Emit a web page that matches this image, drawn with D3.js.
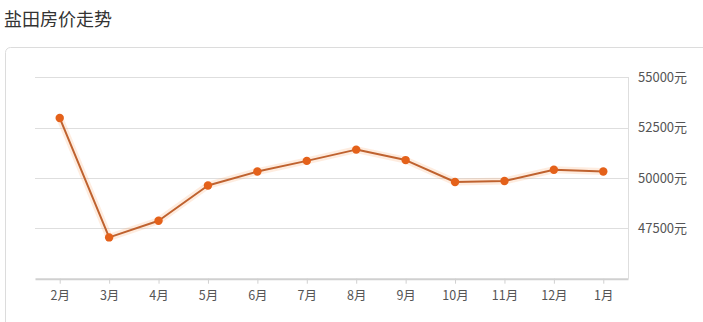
<!DOCTYPE html>
<html><head><meta charset="utf-8">
<script src="https://cdn.jsdelivr.net/npm/d3@7/dist/d3.min.js"></script>
<style>
html,body{margin:0;padding:0;background:#fff;}
svg{display:block;font-family:"Noto Sans CJK SC","Noto Sans",sans-serif;}
</style></head>
<body>
<svg id="chart" width="703" height="322"></svg>
<script>
const title = "盐田房价走势";
const months = ["2月","3月","4月","5月","6月","7月","8月","9月","10月","11月","12月","1月"];
const prices = [52980, 47050, 47880, 49630, 50320, 50850, 51410, 50890, 49800, 49850, 50410, 50320];
const yTicks = [47500, 50000, 52500, 55000];
const yUnit = "元";

(function(){
const svg = d3.select("#chart");
const pLeft = 35, pRight = 628, pTop = 77.3, pBottom = 278.7;

svg.append("text").attr("x", 4).attr("y", 26).attr("font-size", 18).attr("fill", "#333").text(title);

svg.append("rect").attr("x", 5.5).attr("y", 47.5).attr("width", 720).attr("height", 300)
  .attr("rx", 5).attr("fill", "#fff").attr("stroke", "#dcdcdc");

const x = d3.scalePoint().domain(months).range([pLeft, pRight]).padding(0.5);
const y = d3.scaleLinear().domain([45000, 55000]).range([pBottom, pTop]);

svg.append("g").selectAll("line").data(yTicks).join("line")
  .attr("x1", pLeft).attr("x2", pRight)
  .attr("y1", d => Math.round(y(d)) + 0.5).attr("y2", d => Math.round(y(d)) + 0.5)
  .attr("stroke", "#dedede");

svg.append("line").attr("x1", pRight + 0.5).attr("x2", pRight + 0.5)
  .attr("y1", Math.round(y(55000))).attr("y2", pBottom).attr("stroke", "#dedede");

const yAxis = d3.axisRight(y).tickValues(yTicks).tickSize(0).tickPadding(10)
  .tickFormat(d => d + yUnit);
const ya = svg.append("g").attr("transform", `translate(${pRight},0)`).call(yAxis);
ya.select(".domain").remove();
ya.selectAll("text").attr("font-size", 13).attr("fill", "#555")
  .attr("font-family", '"Noto Sans CJK SC","Noto Sans",sans-serif');

const xAxis = d3.axisBottom(x).tickSize(5).tickPadding(7).tickSizeOuter(0);
const xa = svg.append("g").attr("transform", `translate(0,${pBottom})`).call(xAxis);
xa.select(".domain").attr("stroke", "#d0d0d0").attr("stroke-width", 2);
xa.selectAll(".tick line").attr("stroke", "#d0d0d0");
xa.selectAll("text").attr("font-size", 12.5).attr("fill", "#555")
  .attr("font-family", '"Noto Sans CJK SC","Noto Sans",sans-serif');

const data = months.map((m, i) => ({m, v: prices[i]}));
const line = d3.line().x(d => x(d.m)).y(d => y(d.v));

svg.append("path").datum(data).attr("d", line).attr("fill", "none")
  .attr("stroke", "rgba(250,170,110,0.22)").attr("stroke-width", 7).attr("stroke-linejoin", "round");
svg.append("path").datum(data).attr("d", line).attr("fill", "none")
  .attr("stroke", "#bf622f").attr("stroke-width", 2).attr("stroke-linejoin", "round");

svg.append("g").selectAll("circle").data(data).join("circle")
  .attr("cx", d => x(d.m)).attr("cy", d => y(d.v)).attr("r", 4.2)
  .attr("fill", "#e4611a");
})();
</script>
</body></html>
